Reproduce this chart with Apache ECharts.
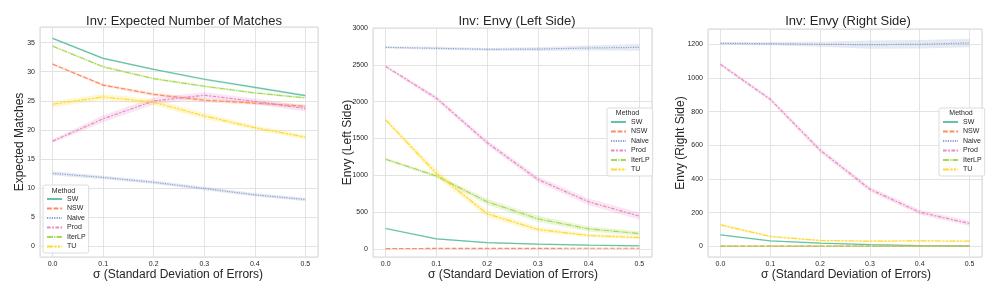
<!DOCTYPE html>
<html><head><meta charset="utf-8">
<script src="https://cdn.jsdelivr.net/npm/echarts@6/dist/echarts.min.js"></script>
<style>html,body{margin:0;padding:0;background:#fff}#c{width:996px;height:285px}</style>
</head><body><div id="c"></div>
<script>
const sigmas = [0.0, 0.1, 0.2, 0.3, 0.4, 0.5];
const methods = ['SW', 'NSW', 'Naive', 'Prod', 'IterLP', 'TU'];
const titles = ['Inv: Expected Number of Matches', 'Inv: Envy (Left Side)', 'Inv: Envy (Right Side)'];
const yNames = ['Expected Matches', 'Envy (Left Side)', 'Envy (Right Side)'];
const xName = 'σ (Standard Deviation of Errors)';

// Panel 1: expected matches
const matchSW     = [35.75, 32.3, 30.4, 28.7, 27.3, 25.9];
const matchNSW    = [31.3, 27.7, 26.1, 25.1, 24.6, 24.05];
const matchNaive  = [12.5, 11.8, 10.96, 9.9, 8.8, 8.0];
const matchProd   = [18.05, 21.9, 24.97, 25.95, 24.9, 23.65];
const matchIterLP = [34.4, 30.85, 28.8, 27.5, 26.35, 25.5];
const matchTU     = [24.4, 25.66, 24.74, 22.4, 20.36, 18.74];
const matchCiSW     = [0.15, 0.15, 0.15, 0.2, 0.2, 0.2];
const matchCiNSW    = [0.2, 0.25, 0.3, 0.35, 0.3, 0.3];
const matchCiNaive  = [0.35, 0.3, 0.3, 0.3, 0.3, 0.3];
const matchCiProd   = [0.3, 0.6, 0.6, 0.5, 0.5, 0.5];
const matchCiIterLP = [0.15, 0.2, 0.2, 0.2, 0.2, 0.2];
const matchCiTU     = [0.5, 0.5, 0.5, 0.5, 0.4, 0.4];

// Panel 2: envy (left side)
const leftSW     = [277, 136, 86, 64, 50, 41];
const leftNSW    = [5, 6, 7, 8, 9, 9];
const leftNaive  = [2737, 2724, 2710, 2714, 2728, 2737];
const leftProd   = [2478, 2047, 1443, 944, 640, 445];
const leftIterLP = [1217, 990, 640, 409, 272, 209];
const leftTU     = [1752, 1026, 477, 263, 182, 154];
const leftCiSW     = [12, 10, 8, 8, 6, 6];
const leftCiNSW    = [3, 3, 3, 3, 3, 3];
const leftCiNaive  = [15, 20, 20, 25, 35, 45];
const leftCiProd   = [20, 30, 35, 40, 45, 50];
const leftCiIterLP = [20, 25, 40, 40, 35, 30];
const leftCiTU     = [30, 50, 45, 35, 25, 20];

// Panel 3: envy (right side)
const rightSW     = [67, 32, 18, 10, 4, 2];
const rightNSW    = [0.5, 0.5, 0.5, 0.5, 0.5, 0.5];
const rightNaive  = [1206, 1204, 1200, 1198, 1200, 1208];
const rightProd   = [1081, 873, 571, 339, 202, 135];
const rightIterLP = [0.3, 0.3, 0.3, 0.3, 0.3, 0.3];
const rightTU     = [127, 58, 34, 30, 32, 30];
const rightCiSW     = [3, 2, 2, 2, 1, 1];
const rightCiNSW    = [0.5, 0.5, 0.5, 0.5, 0.5, 0.5];
const rightCiNaive  = [8, 10, 15, 25, 25, 25];
const rightCiProd   = [10, 12, 15, 15, 15, 15];
const rightCiIterLP = [0.3, 0.3, 0.3, 0.3, 0.3, 0.3];
const rightCiTU     = [10, 6, 4, 4, 4, 4];

const yTicks = [5, 500, 200];
const yMin = [-1.9, -110, -64];
const yMax = [37.7, 3000, 1291];

const panelValues = [
  [matchSW, matchNSW, matchNaive, matchProd, matchIterLP, matchTU],
  [leftSW, leftNSW, leftNaive, leftProd, leftIterLP, leftTU],
  [rightSW, rightNSW, rightNaive, rightProd, rightIterLP, rightTU]
];
const panelCi = [
  [matchCiSW, matchCiNSW, matchCiNaive, matchCiProd, matchCiIterLP, matchCiTU],
  [leftCiSW, leftCiNSW, leftCiNaive, leftCiProd, leftCiIterLP, leftCiTU],
  [rightCiSW, rightCiNSW, rightCiNaive, rightCiProd, rightCiIterLP, rightCiTU]
];

const colors = ['#66c2a5', '#fc8d62', '#8da0cb', '#e78ac3', '#a6d854', '#ffd92f'];
const lw = 1.2;
const dashes = ['solid', [4.8, 1.8], [1.2, 1.2], [3.6, 1.5, 1.8, 1.5], [6, 1.2, 1.2, 1.2], [6, 1.2, 2.4, 1.2, 2.4, 1.2]];

const grids = [
  {left: 40, top: 27, width: 278, height: 230},
  {left: 373, top: 28, width: 279, height: 229},
  {left: 708, top: 29, width: 274, height: 228}
];
const titleX = [179, 512, 843];
const xLabelX = [178, 513, 846];
const yLabelX = [20, 348, 681];
const legendPos = [{left: 43, top: 185}, {left: 607, top: 108}, {left: 939, top: 108}];
const methodTitlePos = [[63.5, 191], [627.5, 113.5], [961, 113.5]];

const FONT = '"Liberation Sans", Arial, sans-serif';
const TXT = '#262626';

function hexA(hex, a) {
  const r = parseInt(hex.slice(1, 3), 16), g = parseInt(hex.slice(3, 5), 16), b = parseInt(hex.slice(5, 7), 16);
  return `rgba(${r},${g},${b},${a})`;
}

const option = {
  backgroundColor: '#fff',
  animation: false,
  title: titles.map((t, i) => ({
    text: t, left: titleX[i], top: 10, textAlign: 'center',
    textStyle: {fontFamily: FONT, fontSize: 13, fontWeight: 'normal', color: TXT}
  })),
  grid: grids.map(g => Object.assign({show: true, borderColor: '#d6d6d6', borderWidth: 1, backgroundColor: 'transparent'}, g)),
  xAxis: grids.map((g, i) => ({
    type: 'value', gridIndex: i, min: -0.025, max: 0.525, minInterval: 0.1, maxInterval: 0.1,
    axisLine: {show: false}, axisTick: {show: false},
    splitLine: {show: true, lineStyle: {color: '#e3e3e3', width: 1}},
    axisLabel: {
      fontFamily: FONT, fontSize: 7, color: TXT, margin: 4,
      formatter: v => (Math.abs(v * 10 - Math.round(v * 10)) < 1e-6 ? v.toFixed(1) : '')
    }
  })),
  yAxis: grids.map((g, i) => ({
    type: 'value', gridIndex: i, min: yMin[i], max: yMax[i], minInterval: yTicks[i], maxInterval: yTicks[i],
    axisLine: {show: false}, axisTick: {show: false},
    splitLine: {show: true, lineStyle: {color: '#e3e3e3', width: 1}},
    axisLabel: {
      fontFamily: FONT, fontSize: 7, color: TXT, margin: 5,
      formatter: v => (Math.abs(v / yTicks[i] - Math.round(v / yTicks[i])) < 1e-6 ? String(Math.round(v)) : '')
    }
  })),
  legend: legendPos.map((p, i) => ({
    data: methods, orient: 'vertical', left: p.left, top: p.top,
    itemWidth: 15, itemHeight: 7, itemGap: 2.5,
    padding: [10.5, 3, 3, 3],
    itemStyle: {opacity: 0},
    backgroundColor: 'rgba(255,255,255,0.85)', borderColor: '#dcdcdc', borderWidth: 1, borderRadius: 2,
    textStyle: {fontFamily: FONT, fontSize: 7, color: TXT},
    selectedMode: false
  })),
  graphic: [],
  series: []
};

function bandRenderer(color) {
  return function (params, api) {
    if (params.dataIndex !== 0) return null;
    const n = sigmas.length;
    const up = [], lo = [];
    for (let j = 0; j < n; j++) {
      const x = api.value(0, j), y = api.value(1, j), c = api.value(2, j);
      up.push(api.coord([x, y + c]));
      lo.push(api.coord([x, y - c]));
    }
    const pts = up.concat(lo.reverse());
    return {
      type: 'polygon', silent: true,
      shape: {points: pts},
      style: {fill: hexA(color, 0.22), stroke: null}
    };
  };
}

for (let i = 0; i < 3; i++) {
  option.graphic.push({
    type: 'text', x: methodTitlePos[i][0], y: methodTitlePos[i][1], z: 100,
    style: {text: 'Method', fontFamily: FONT, fontSize: 7, fill: TXT, textAlign: 'center', textVerticalAlign: 'middle'}
  });
  option.graphic.push({
    type: 'text', x: xLabelX[i], y: 275,
    style: {text: xName, fontFamily: FONT, fontSize: 12, fill: TXT, textAlign: 'center', textVerticalAlign: 'middle'}
  });
  option.graphic.push({
    type: 'text', x: yLabelX[i], y: grids[i].top + grids[i].height / 2, rotation: Math.PI / 2,
    style: {text: yNames[i], fontFamily: FONT, fontSize: 12, fill: TXT, textAlign: 'center', textVerticalAlign: 'middle'}
  });
  methods.forEach((m, k) => {
    option.series.push({
      type: 'custom', name: 'band' + i + '_' + k, xAxisIndex: i, yAxisIndex: i, z: 1, silent: true,
      renderItem: bandRenderer(colors[k]),
      encode: {x: 0, y: 1},
      data: sigmas.map((s, j) => [s, panelValues[i][k][j], panelCi[i][k][j]])
    });
  });
  methods.forEach((m, k) => {
    option.series.push({
      type: 'line', name: m, xAxisIndex: i, yAxisIndex: i, symbol: 'none', showSymbol: false, z: 5,
      itemStyle: {color: colors[k]},
      lineStyle: {color: colors[k], width: lw, type: dashes[k]},
      data: sigmas.map((s, j) => [s, panelValues[i][k][j]])
    });
  });
}

const chart = echarts.init(document.getElementById('c'), null, {renderer: 'canvas'});
chart.setOption(option);
</script>
</body></html>
